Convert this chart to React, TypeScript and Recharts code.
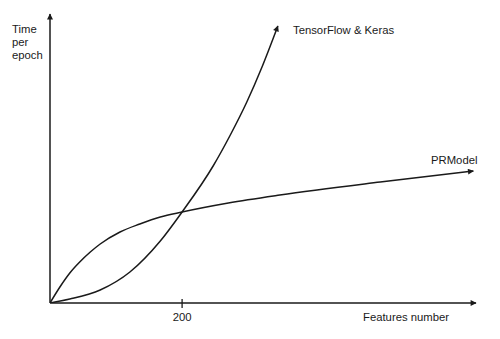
import { LineChart, Line, XAxis, YAxis } from "recharts";

// features number vs. time per epoch (arbitrary units)
const tfFeatures = [0, 30, 76, 121, 167, 200, 247, 273, 298, 321, 345];
const tfTime = [0, 4, 13, 31, 62, 91, 137, 168, 201, 236, 277];

const prFeatures = [0, 15, 30, 45, 61, 76, 106, 136, 167, 200, 270, 348, 500, 641];
const prTime = [0, 16, 30, 41, 51, 59, 71, 79, 86, 91, 100, 108, 121, 132];

const xTicks = [200];

const tfData = tfFeatures.map((x, i) => ({ x, y: tfTime[i] }));
const prData = prFeatures.map((x, i) => ({ x, y: prTime[i] }));

const ink = "#1a1a1a";
const font = "'Liberation Sans', Arial, Helvetica, sans-serif";

const FeatureTick = (props: any) => {
    const { x, y, payload } = props;
    return (
        <g>
            <line x1={x} x2={x} y1={y - 4} y2={y + 5} stroke={ink} strokeWidth={1.3} />
            <text x={x} y={y + 18} textAnchor="middle" fontSize={11.3} fontFamily={font} fill={ink}>
                {payload.value}
            </text>
        </g>
    );
};

export default function App() {
    return (
        <div style={{ position: "absolute", left: 0, top: 0, width: 500, height: 339, background: "#fff" }}>
            <LineChart
                width={500}
                height={339}
                margin={{ top: 14, right: 24, bottom: 6, left: 49 }}
            >
                <defs>
                    <marker
                        id="arrowHead"
                        viewBox="0 0 10 10"
                        refX="9"
                        refY="5"
                        markerWidth="7"
                        markerHeight="6"
                        markerUnits="userSpaceOnUse"
                        orient="auto-start-reverse"
                    >
                        <path d="M0,0 L10,5 L0,10 z" fill={ink} />
                    </marker>
                </defs>
                <XAxis
                    type="number"
                    dataKey="x"
                    domain={[0, 645]}
                    ticks={xTicks}
                    height={30}
                    tickSize={0}
                    tickMargin={0}
                    tickLine={false}
                    tick={<FeatureTick />}
                    axisLine={{ stroke: ink, strokeWidth: 1.5, markerEnd: "url(#arrowHead)" }}
                    allowDataOverflow
                />
                <YAxis
                    type="number"
                    dataKey="y"
                    domain={[0, 289]}
                    width={1}
                    tick={false}
                    tickLine={false}
                    axisLine={{ stroke: ink, strokeWidth: 1.5, markerStart: "url(#arrowHead)" }}
                    allowDataOverflow
                />
                <Line
                    data={tfData}
                    dataKey="y"
                    type="monotone"
                    stroke={ink}
                    strokeWidth={1.5}
                    dot={false}
                    markerEnd="url(#arrowHead)"
                    isAnimationActive={false}
                />
                <Line
                    data={prData}
                    dataKey="y"
                    type="monotone"
                    stroke={ink}
                    strokeWidth={1.5}
                    dot={false}
                    markerEnd="url(#arrowHead)"
                    isAnimationActive={false}
                />
                <text x={12} y={33} fontSize={11.3} fontFamily={font} fill={ink}>Time</text>
                <text x={12} y={46} fontSize={11.3} fontFamily={font} fill={ink}>per</text>
                <text x={12} y={59} fontSize={11.3} fontFamily={font} fill={ink}>epoch</text>
                <text x={293} y={34} fontSize={11.3} fontFamily={font} fill={ink}>TensorFlow &amp; Keras</text>
                <text x={431} y={164} fontSize={11.3} fontFamily={font} fill={ink}>PRModel</text>
                <text x={363} y={321} fontSize={11.3} fontFamily={font} fill={ink}>Features number</text>
            </LineChart>
        </div>
    );
}
